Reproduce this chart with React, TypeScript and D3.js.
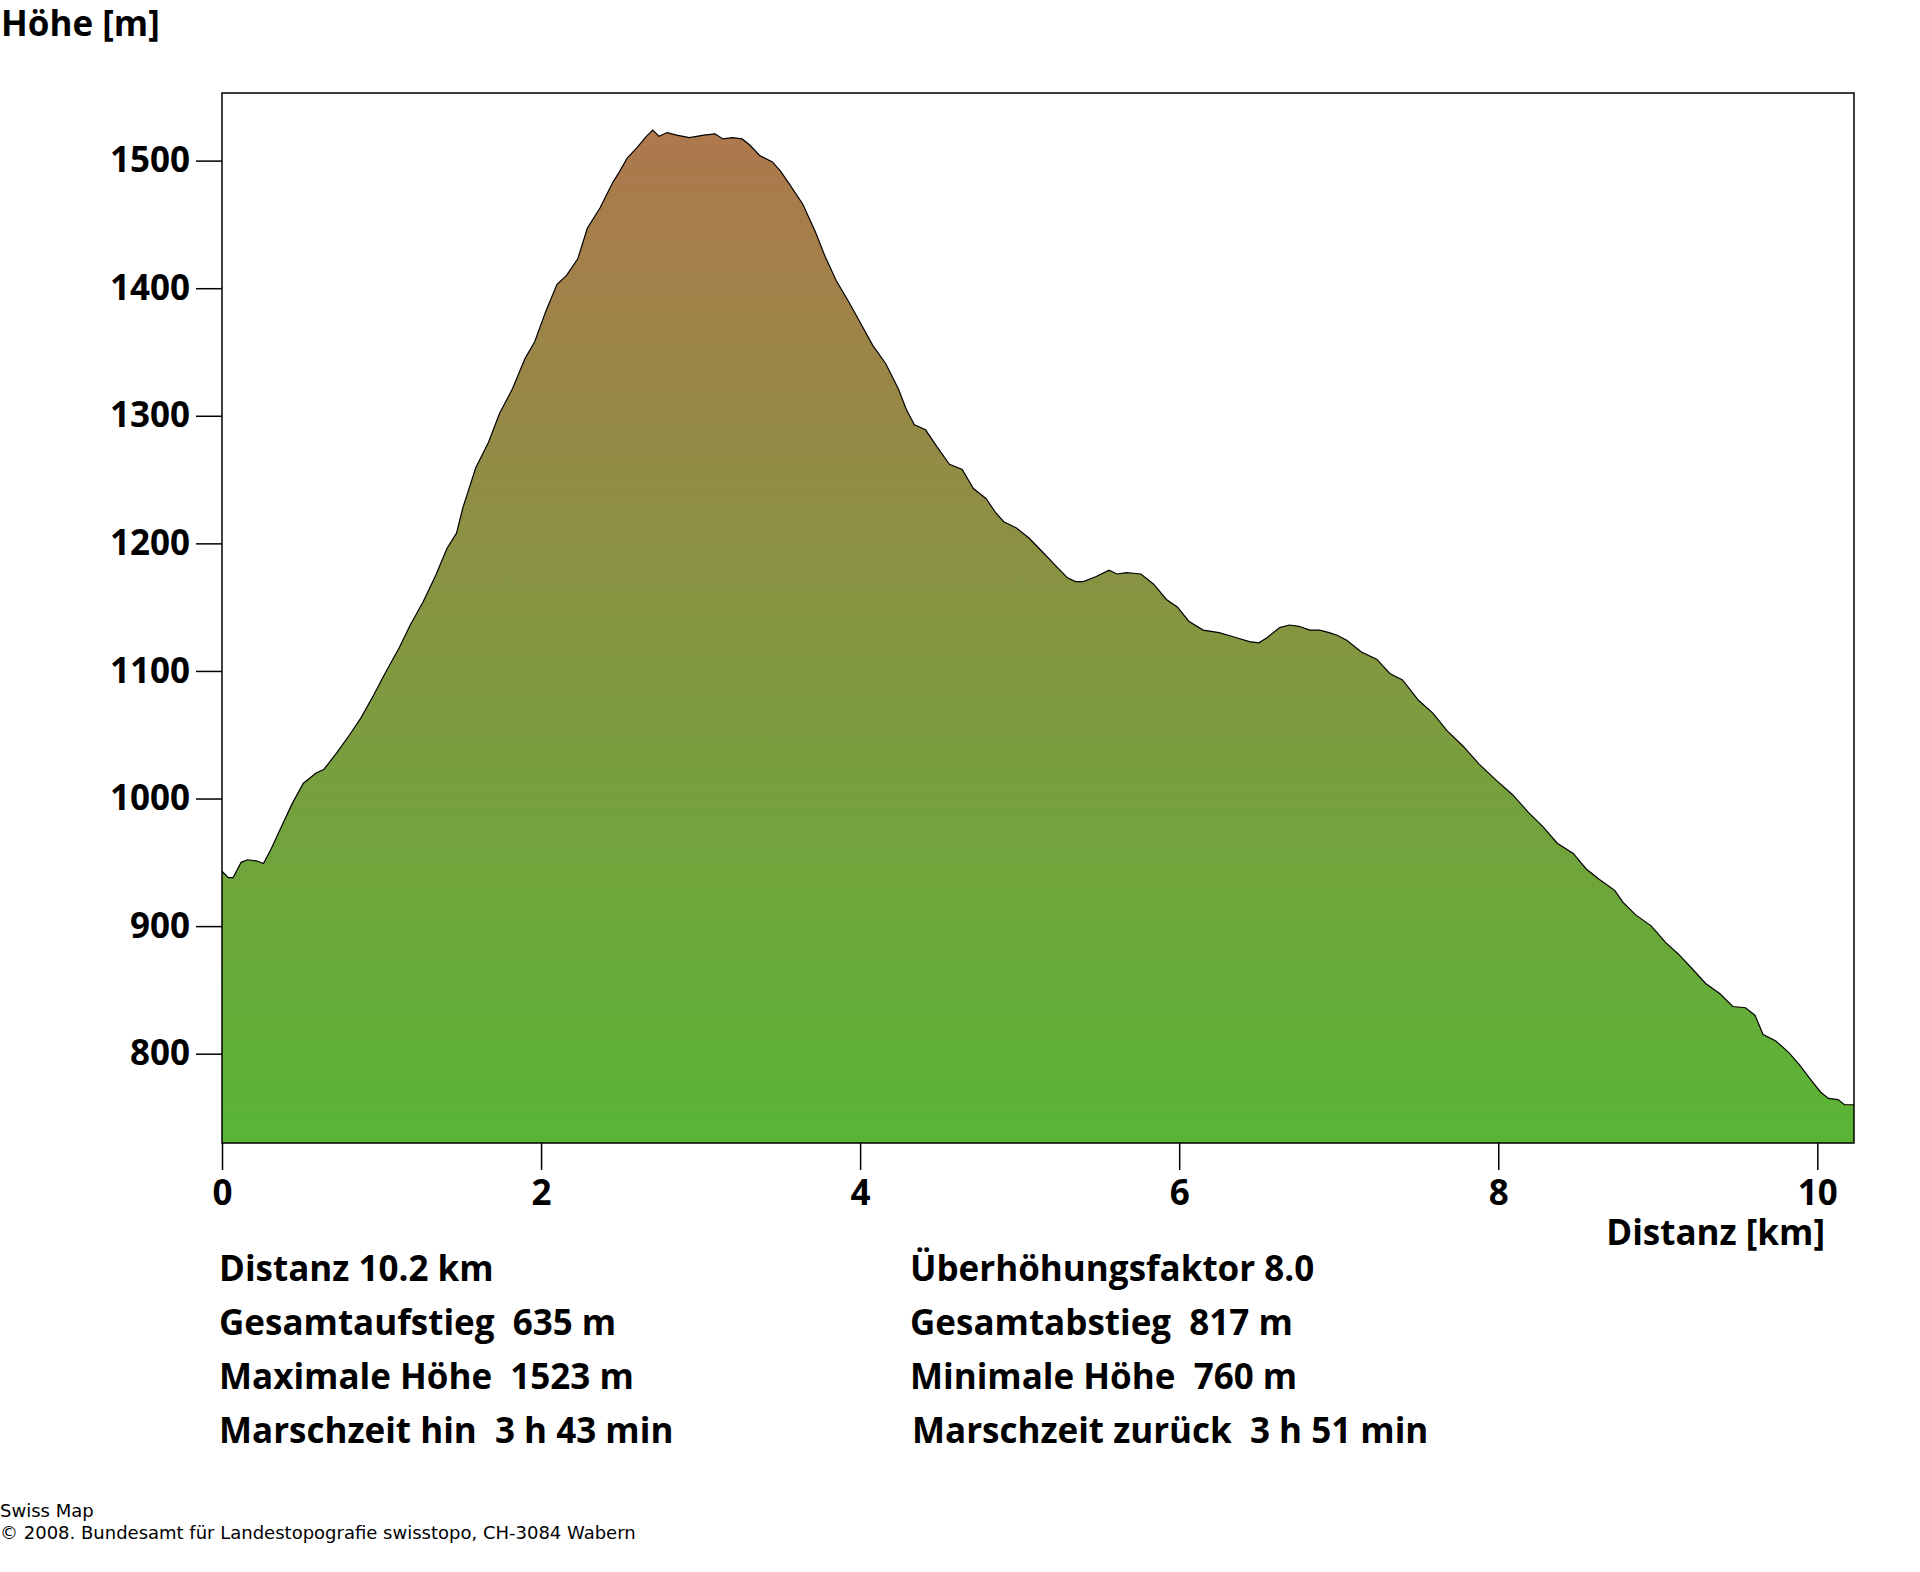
import * as React from 'react';
import { scaleLinear, area, line, select, axisLeft, axisBottom } from 'd3';

// profile (km, m)
const distKm = [
    0, 0.04, 0.07, 0.12, 0.16, 0.22, 0.26, 0.31, 0.38, 0.44, 0.51, 0.59, 0.64, 0.72, 0.80, 0.87, 0.95,
    1.03, 1.11, 1.18, 1.26, 1.34, 1.41, 1.47, 1.51, 1.59, 1.67, 1.74, 1.82, 1.90, 1.96, 2.03, 2.10,
    2.16, 2.23, 2.29, 2.37, 2.45, 2.49, 2.54, 2.60, 2.66, 2.70, 2.74, 2.79, 2.85, 2.93, 3.02, 3.09,
    3.14, 3.20, 3.26, 3.31, 3.37, 3.45, 3.50, 3.56, 3.64, 3.72, 3.78, 3.85, 3.93, 4.01, 4.08, 4.16,
    4.24, 4.29, 4.34, 4.41, 4.48, 4.56, 4.64, 4.71, 4.79, 4.85, 4.90, 4.98, 5.06, 5.13, 5.23, 5.30,
    5.35, 5.40, 5.48, 5.56, 5.61, 5.67, 5.76, 5.84, 5.92, 5.99, 6.06, 6.15, 6.25, 6.36, 6.44, 6.50,
    6.55, 6.63, 6.69, 6.75, 6.82, 6.88, 6.94, 6.99, 7.05, 7.14, 7.24, 7.32, 7.40, 7.50, 7.59, 7.68,
    7.78, 7.88, 7.99, 8.09, 8.19, 8.28, 8.37, 8.47, 8.55, 8.63, 8.73, 8.78, 8.86, 8.96, 9.05, 9.13,
    9.22, 9.30, 9.39, 9.47, 9.55, 9.61, 9.66, 9.74, 9.82, 9.89, 9.95, 10.02, 10.07, 10.13, 10.17, 10.23
];
const elevM = [
    943, 938, 938, 950, 952, 951, 949, 961, 980, 996, 1012, 1020, 1023, 1036, 1050, 1063, 1081,
    1100, 1118, 1136, 1154, 1175, 1196, 1208, 1228, 1259, 1279, 1302, 1321, 1345, 1358, 1382, 1403,
    1410, 1423, 1447, 1463, 1483, 1491, 1502, 1510, 1519, 1524, 1519, 1522, 1520, 1518, 1520, 1521,
    1517, 1518, 1517, 1512, 1504, 1499, 1492, 1481, 1466, 1444, 1425, 1406, 1389, 1371, 1355, 1341,
    1321, 1305, 1293, 1289, 1276, 1262, 1258, 1243, 1235, 1224, 1217, 1212, 1204, 1195, 1182, 1173,
    1170, 1170, 1174, 1179, 1176, 1177, 1176, 1168, 1156, 1150, 1139, 1132, 1130, 1126, 1123, 1122,
    1126, 1134, 1136, 1135, 1132, 1132, 1130, 1128, 1124, 1115, 1109, 1098, 1093, 1077, 1067, 1053,
    1041, 1027, 1014, 1003, 989, 978, 965, 957, 945, 937, 928, 919, 909, 900, 887, 878,
    866, 855, 847, 837, 836, 830, 815, 810, 801, 791, 781, 770, 765, 764, 760, 760
];

const yTicks = [800, 900, 1000, 1100, 1200, 1300, 1400, 1500];
const xTicks = [0, 2, 4, 6, 8, 10];

const statsLeft = ['Distanz 10.2 km', 'Gesamtaufstieg  635 m', 'Maximale Höhe  1523 m', 'Marschzeit hin  3 h 43 min'];
const statsRight = ['Überhöhungsfaktor 8.0', 'Gesamtabstieg  817 m', 'Minimale Höhe  760 m', 'Marschzeit zurück  3 h 51 min'];

const W = 1920;
const H = 1572;
const plot = { left: 222, right: 1854, top: 93, bottom: 1143 };
const font = '"Open Sans", "DejaVu Sans", sans-serif';
const footerFont = '"DejaVu Sans", Verdana, sans-serif';

const App = () => {
    const xAxisRef = React.useRef<SVGGElement>(null);
    const yAxisRef = React.useRef<SVGGElement>(null);

    const xScale = scaleLinear().domain([0, 10.23]).range([plot.left, plot.right]);
    const yScale = scaleLinear().domain([730, 1553]).range([plot.bottom, plot.top]);

    const points = distKm.map((d, i) => [d, elevM[i]] as [number, number]);
    const areaPath = area<[number, number]>()
        .x(d => xScale(d[0]))
        .y0(plot.bottom)
        .y1(d => yScale(d[1]))(points)!;
    const linePath = line<[number, number]>()
        .x(d => xScale(d[0]))
        .y(d => yScale(d[1]))(points)!;

    React.useEffect(() => {
        const styleAxis = (g: any) => {
            g.select('.domain').remove();
            g.selectAll('line').attr('stroke', '#000').attr('stroke-width', 1.5);
            g.selectAll('text')
                .attr('fill', '#000')
                .style('font-family', font)
                .style('font-weight', 700)
                .style('font-size', '35px');
        };
        if (yAxisRef.current) {
            const g = select(yAxisRef.current);
            g.call(axisLeft(yScale).tickValues(yTicks).tickSize(26).tickPadding(6).tickFormat(d => String(d)) as any);
            styleAxis(g);
        }
        if (xAxisRef.current) {
            const g = select(xAxisRef.current);
            g.call(axisBottom(xScale).tickValues(xTicks).tickSize(27).tickPadding(10).tickFormat(d => String(d)) as any);
            styleAxis(g);
        }
    }, []);

    return (
        <svg width={W} height={H} style={{ position: 'absolute', left: 0, top: 0, background: '#fff' }}>
            <defs>
                <linearGradient id="relief" gradientUnits="userSpaceOnUse" x1={0} x2={0} y1={yScale(1523)} y2={plot.bottom}>
                    <stop offset="0%" stopColor="#ae784d" />
                    <stop offset="100%" stopColor="#59b535" />
                </linearGradient>
            </defs>

            <text x={1} y={36} fontFamily={font} fontWeight={700} fontSize={35} fill="#000">Höhe [m]</text>

            <path d={areaPath} fill="url(#relief)" />
            <path d={linePath} fill="none" stroke="#000" strokeWidth={1.2} />
            <rect x={plot.left} y={plot.top} width={plot.right - plot.left} height={plot.bottom - plot.top}
                fill="none" stroke="#000" strokeWidth={1.5} />

            <g ref={yAxisRef} transform={`translate(${plot.left},0)`} />
            <g ref={xAxisRef} transform={`translate(0,${plot.bottom})`} />

            <text x={1825} y={1245} textAnchor="end" fontFamily={font} fontWeight={700} fontSize={35} fill="#000">Distanz [km]</text>

            {statsLeft.map((t, i) => (
                <text key={'l' + i} x={219} y={1281 + i * 54} fontFamily={font} fontWeight={700} fontSize={35}
                    fill="#000" style={{ whiteSpace: 'pre' }}>{t}</text>
            ))}
            {statsRight.map((t, i) => (
                <text key={'r' + i} x={i === 3 ? 912 : 910} y={1281 + i * 54} fontFamily={font} fontWeight={700} fontSize={35}
                    fill="#000" style={{ whiteSpace: 'pre' }}>{t}</text>
            ))}

            <text x={0} y={1517} fontFamily={footerFont} fontSize={18} fill="#000">Swiss Map</text>
            <text x={0} y={1539} fontFamily={footerFont} fontSize={18} fill="#000">© 2008. Bundesamt für Landestopografie swisstopo, CH-3084 Wabern</text>
        </svg>
    );
};

export default App;
